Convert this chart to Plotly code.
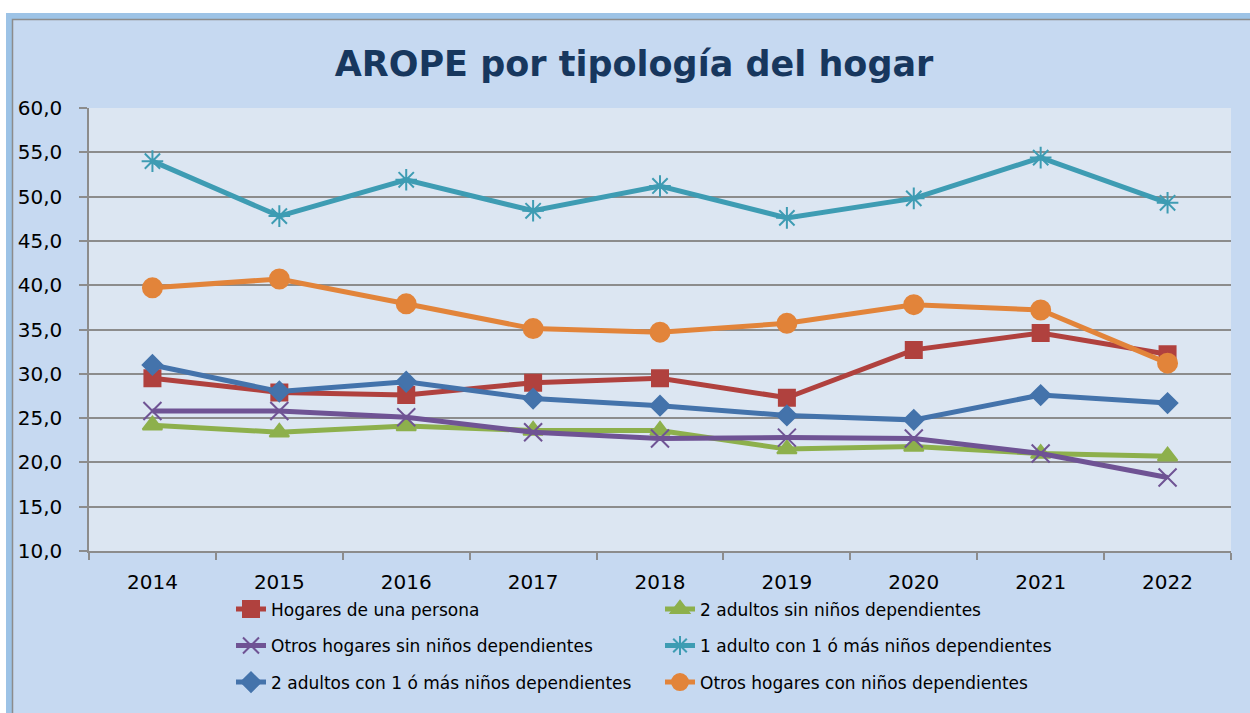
import plotly.graph_objects as go

years = ["2014", "2015", "2016", "2017", "2018", "2019", "2020", "2021", "2022"]

hogares_una_persona = [29.5, 27.9, 27.6, 29.0, 29.5, 27.3, 32.7, 34.6, 32.2]
dos_adultos_sin_ninos = [24.2, 23.4, 24.1, 23.6, 23.6, 21.5, 21.8, 21.0, 20.7]
otros_sin_ninos = [25.8, 25.8, 25.1, 23.4, 22.7, 22.8, 22.7, 21.0, 18.3]
un_adulto_con_ninos = [54.0, 47.8, 51.9, 48.4, 51.2, 47.6, 49.8, 54.4, 49.3]
dos_adultos_con_ninos = [31.0, 28.0, 29.1, 27.2, 26.4, 25.3, 24.8, 27.6, 26.7]
otros_con_ninos = [39.7, 40.7, 37.9, 35.1, 34.7, 35.7, 37.8, 37.2, 31.2]

names = [
    "Hogares de una persona",
    "2 adultos sin niños dependientes",
    "Otros hogares sin niños dependientes",
    "1 adulto con 1 ó más niños dependientes",
    "2 adultos con 1 ó más niños dependientes",
    "Otros hogares con niños dependientes",
]
series = [hogares_una_persona, dos_adultos_sin_ninos, otros_sin_ninos,
          un_adulto_con_ninos, dos_adultos_con_ninos, otros_con_ninos]

colors = ["#B0413E", "#8DB04C", "#6F5394", "#3E9CB3", "#4473AB", "#E2843A"]
symbols = ["square", "triangle-up", "x-thin-open", "asterisk-open", "diamond", "circle"]
sizes = [16, 17, 18, 18, 15, 19]
legends = ["legend", "legend", "legend2", "legend2", "legend3", "legend3"]

W, H = 1250, 713
# plot area in page pixels
L, R, T, B = 89, 1231, 108, 556
PW, PH = R - L, B - T


def px(x):
    return (x - L) / PW


def py(y):
    return (B - y) / PH


fig = go.Figure()
for name, vals, col, sym, sz, lg in zip(names, series, colors, symbols, sizes, legends):
    fig.add_trace(go.Scatter(
        x=years, y=vals, name=name, mode="lines+markers",
        line=dict(color=col, width=5),
        marker=dict(symbol=sym, size=sz, color=col, line=dict(color=col, width=2)),
        legend=lg,
    ))

shapes = [
    dict(type="rect", xref="paper", yref="paper", x0=px(6), x1=px(1270), y0=py(12), y1=py(730),
         fillcolor="#9DC3E6", line=dict(width=0), layer="below"),
    dict(type="rect", xref="paper", yref="paper", x0=px(12.5), x1=px(1270), y0=py(18.5), y1=py(730),
         fillcolor="#C6D9F1", line=dict(color="#8C8C8C", width=1.5), layer="below"),
    dict(type="rect", xref="paper", yref="paper", x0=0, x1=1, y0=0, y1=1,
         fillcolor="#DCE6F2", line=dict(width=0), layer="below"),
]

leg_common = dict(orientation="h", xanchor="left", yanchor="middle",
                  entrywidth=384, entrywidthmode="pixels",
                  font=dict(family="DejaVu Sans", size=17, color="#000000"),
                  bgcolor="rgba(0,0,0,0)", borderwidth=0, traceorder="normal")

fig.update_layout(
    width=W, height=H,
    margin=dict(l=L, r=W - R, t=T, b=H - B, pad=0),
    paper_bgcolor="#FFFFFF",
    plot_bgcolor="rgba(0,0,0,0)",
    separators=",.",
    shapes=shapes,
    title=dict(text="<b>AROPE por tipología del hogar</b>", x=634 / W, xanchor="center",
               y=1 - 64 / H, yanchor="middle", xref="container", yref="container",
               font=dict(family="DejaVu Sans", size=35, color="#17375E")),
    showlegend=True,
    legend=dict(x=px(231), y=py(615), **leg_common),
    legend2=dict(x=px(231), y=py(652), **leg_common),
    legend3=dict(x=px(231), y=py(689), **leg_common),
    xaxis=dict(type="category", tickson="boundaries", ticks="outside", ticklen=7,
               tickcolor="#8C8C8C", tickwidth=1.5, showline=True, linecolor="#8C8C8C",
               linewidth=1.5, showgrid=False, zeroline=False,
               tickfont=dict(family="DejaVu Sans", size=20, color="#000000"),
               ticklabelstandoff=12, range=[-0.5, 8.5]),
    yaxis=dict(range=[10, 60], dtick=5, tick0=10, tickformat=".1f", ticks="outside",
               ticklen=8, tickcolor="#8C8C8C", tickwidth=1.5, showline=True,
               linecolor="#8C8C8C", linewidth=1.5, showgrid=True, gridcolor="#8C8C8C",
               gridwidth=1.5, zeroline=False,
               tickfont=dict(family="DejaVu Sans", size=20, color="#000000"),
               ticklabelstandoff=13),
)

post = (
    "document.documentElement.style.margin='0px';"
    "document.body.style.margin='0px';"
    "document.documentElement.style.overflow='hidden';"
    "document.body.style.overflow='hidden';"
    "document.querySelectorAll('.plotly-graph-div').forEach(function(d){d.style.overflow='hidden';});"
)
fig.write_html("out.html", config={"displayModeBar": False}, post_script=post)
